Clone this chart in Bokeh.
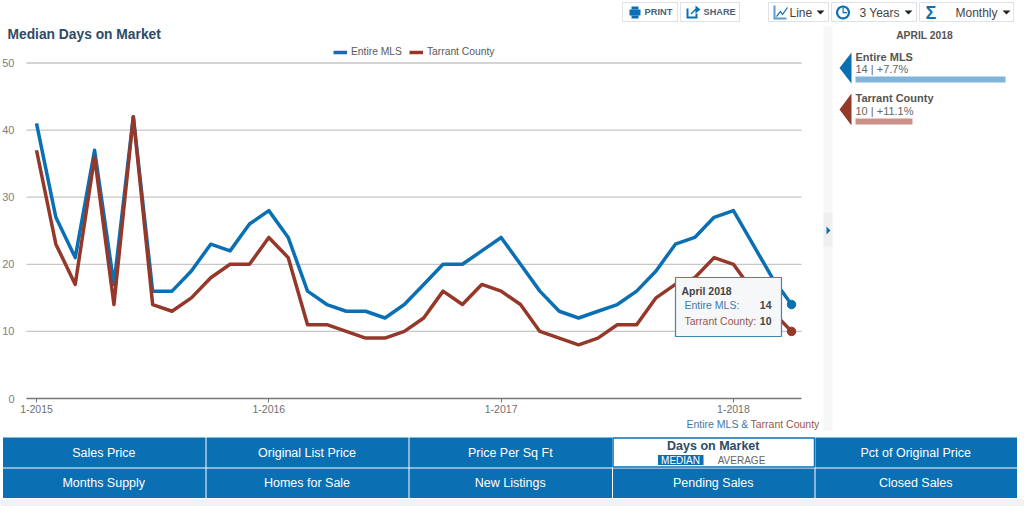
import math
from bokeh.plotting import figure
from bokeh.embed import file_html
from bokeh.resources import INLINE
from bokeh.models import (Label, BoxAnnotation, PolyAnnotation, FixedTicker, Legend, LegendItem, Range1d)

W, H = 1024, 506
entire_mls = [41,27,21,37,17,42,16,16,19,23,22,26,28,24,16,14,13,13,12,14,17,20,20,22,24,20,16,13,12,13,14,16,19,23,24,27,28,23,18,14]
tarrant = [37,23,17,36,14,42,14,13,15,18,20,20,24,21,11,11,10,9,9,10,12,16,14,17,16,14,10,9,8,9,11,11,15,17,18,21,20,16,13,10]
months = list(range(40))
x_ticks = [0,12,24,36]
x_tick_labels = ["1-2015","1-2016","1-2017","1-2018"]
y_ticks = [0,10,20,30,40,50]
buttons_row1 = ["Sales Price","Original List Price","Price Per Sq Ft","Days on Market","Pct of Original Price"]
buttons_row2 = ["Months Supply","Homes for Sale","New Listings","Pending Sales","Closed Sales"]

BLUE = "#0b6fb3"; RED = "#95382a"; FONT = "Liberation Sans"

# the frame fills the canvas; month 0 lies at 36px, with 19.36px per month; value 0 at 398px, 6.71px per unit
PX_X, X0 = 19.36, 36
PX_Y, Y0 = 6.71, 398
x_lo, x_hi = (26 - X0) / PX_X, (801 - X0) / PX_X

p = figure(width=W, height=H, output_backend="svg", toolbar_location=None,
           x_range=Range1d(-X0 / PX_X, (W - X0) / PX_X), y_range=Range1d(-(H - Y0) / PX_Y, Y0 / PX_Y),
           min_border=0, outline_line_color=None, background_fill_color="white", border_fill_color="white")

p.xaxis.fixed_location = 0
p.yaxis.fixed_location = x_lo
p.xaxis.bounds = (x_lo, x_hi)
p.xaxis.ticker = FixedTicker(ticks=x_ticks)
p.xaxis.major_label_overrides = dict(zip(x_ticks, x_tick_labels))
p.yaxis.ticker = FixedTicker(ticks=y_ticks)
p.grid.visible = False
p.segment([x_lo] * 5, y_ticks[1:], [x_hi] * 5, y_ticks[1:], line_color="#c6c6c6", line_width=1.3)
p.xaxis.axis_line_color = "#777777"; p.xaxis.axis_line_width = 1.5
p.xaxis.major_tick_line_color = "#777777"; p.xaxis.major_tick_in = 0; p.xaxis.major_tick_out = 4
p.xaxis.minor_tick_line_color = None
p.xaxis.major_label_text_font = FONT; p.xaxis.major_label_text_font_size = "10.5px"; p.xaxis.major_label_text_color = "#707070"
p.xaxis.major_label_standoff = 2
p.yaxis.axis_line_color = None; p.yaxis.major_tick_line_color = None; p.yaxis.minor_tick_line_color = None
p.yaxis.major_label_text_font = FONT; p.yaxis.major_label_text_font_size = "11px"; p.yaxis.major_label_text_color = "#808080"
p.yaxis.major_label_standoff = 6

r1 = p.line(months, entire_mls, line_color=BLUE, line_width=3.5, line_join="round")
r2 = p.line(months, tarrant, line_color=RED, line_width=3.5, line_join="round")
p.scatter(months[-1:], entire_mls[-1:], size=8.5, color=BLUE)
p.scatter(months[-1:], tarrant[-1:], size=8.5, color=RED)

legend = Legend(items=[LegendItem(label="Entire MLS", renderers=[r1]), LegendItem(label="Tarrant County", renderers=[r2])],
                orientation="horizontal", location=(333, 449), background_fill_alpha=0, border_line_color=None,
                label_text_font=FONT, label_text_font_size="10.3px", label_text_color="#5a5a5a",
                glyph_width=14, glyph_height=8, spacing=7, padding=2, margin=0, label_standoff=4)
p.add_layout(legend, "center")

LEVEL = "annotation"

def box(x0, y0, x1, y1, fill, line=None, lw=1, alpha=1.0, level=LEVEL):
    p.add_layout(BoxAnnotation(left=x0, right=x1, top=y0, bottom=y1,
                 left_units="canvas", right_units="canvas", top_units="canvas", bottom_units="canvas",
                 fill_color=fill, fill_alpha=alpha, line_color=line, line_alpha=1, line_width=lw, level=level, editable=False))

def text(x, y, s, size=11, color="#444444", style="normal", align="left"):
    p.add_layout(Label(x=x, y=y, x_units="canvas", y_units="canvas", text=s, text_font=FONT,
                       text_font_size=f"{size}px", text_color=color, text_font_style=style, text_align=align,
                       text_baseline="middle", level=LEVEL))

def poly(xs, ys, fill, line=None, lw=1):
    p.add_layout(PolyAnnotation(xs=xs, ys=ys, xs_units="canvas", ys_units="canvas",
                 fill_color=fill, fill_alpha=1, line_color=line, line_width=lw, level=LEVEL))

def disc(cx, cy, r, fill):
    a = [i * math.pi / 12 for i in range(24)]
    poly([cx + r * math.cos(t) for t in a], [cy + r * math.sin(t) for t in a], fill)

# title and source
text(7, 34, "Median Days on Market", 13.8, "#2f4a66", "bold")
text(686, 423, "Entire MLS &", 10.5, "#3d78a8")
text(750, 423, "Tarrant County", 10.5, "#96584d")

# tooltip
box(675, 277, 781, 336, "#f6f7f8", "#3f86b3", 1.2)
text(681, 290, "April 2018", 10.5, "#444444", "bold")
text(684, 304, "Entire MLS:", 10.5, "#3d78a8")
text(771, 304, "14", 10.5, "#444444", "bold", "right")
text(684, 320, "Tarrant County:", 10.5, "#96584d")
text(771, 320, "10", 10.5, "#444444", "bold", "right")

# side strip
box(823, 26, 832, 430, "#f7f7f7")
box(823, 212, 832, 246, "#efefef")
poly([826, 830, 826], [226, 230, 234], BLUE)

# side panel
text(924, 35, "APRIL 2018", 10.3, "#555555", "bold", "center")
poly([851, 851, 839], [52, 83, 67.5], BLUE)
text(855, 56, "Entire MLS", 11, "#555555", "bold")
text(855, 68.5, "14 | +7.7%", 11, "#666666")
box(855, 76, 1005, 82, "#80b4d9")
poly([851, 851, 839], [93, 125, 109], RED)
text(855, 97.5, "Tarrant County", 11, "#555555", "bold")
text(855, 110.5, "10 | +11.1%", 11, "#666666")
box(855, 118, 912, 124, "#cc9088")

# toolbar buttons
def btn(x0, x1):
    box(x0, 2, x1, 21, "#ffffff", "#dde2e6", 1)
btn(622, 677); btn(680, 739); btn(768, 828); btn(831, 916); btn(919, 1013)
box(629, 9, 640, 15, BLUE); box(631, 6, 638, 9, BLUE); box(631, 15, 638, 18, BLUE)
text(644, 11.5, "PRINT", 9.3, "#4a6278", "bold")
poly([686, 686, 697, 697, 695, 695, 688, 688], [8, 18, 18, 13, 13, 16, 16, 8], BLUE)
poly([690, 695, 695, 700, 695, 695, 691], [13, 8, 5, 9, 13, 10, 14], BLUE)
text(703, 11.5, "SHARE", 9.2, "#4a6278", "bold")
poly([773, 775, 775, 786, 786, 773], [5, 5, 17, 17, 19, 19], "#5d9ccb")
poly([776, 780, 782, 787, 787, 782, 780, 776], [15, 10, 13, 6, 8, 15, 12, 17], BLUE)
text(789, 12, "Line", 12, "#444444")
poly([816, 824, 820], [10, 10, 14], "#222222")
disc(842.5, 12, 7, BLUE)
disc(842.5, 12, 4.8, "#ffffff")
poly([842, 843.2, 843.2, 846.5, 846.5, 842], [7.5, 7.5, 11.5, 11.5, 12.8, 12.8], BLUE)
text(859, 12, "3 Years", 12, "#444444")
poly([904, 912, 908], [10, 10, 14], "#222222")
text(925, 12, "Σ", 18, BLUE, "bold")
text(955, 12, "Monthly", 12, "#444444")
poly([1002, 1010, 1006], [10, 10, 14], "#222222")

# bottom buttons
box(0, 498.5, 1024, 506, "#f2f2f2")
edges = [2, 205.5, 408.5, 612, 814.5, 1017]
for i in range(5):
    x0, x1 = edges[i], edges[i+1]
    mid = (x0 + x1) / 2 - 0.5
    if i == 3:
        box(x0 + 0.5, 437.5, x1 - 0.5, 466.5, "#ffffff", BLUE, 1.5)
        text(mid, 445.5, buttons_row1[i], 12.5, "#2f4a66", "bold", "center")
        box(657.5, 454.5, 703, 464.5, BLUE)
        text(680, 459.5, "MEDIAN", 10, "#ffffff", "normal", "center")
        text(741, 459.5, "AVERAGE", 10, "#666666", "normal", "center")
    else:
        box(x0 + 0.5, 437, x1 - 0.5, 467, BLUE)
        text(mid, 452, buttons_row1[i], 12.5, "#ffffff", "normal", "center")
    box(x0 + 0.5, 468, x1 - 0.5, 497.5, BLUE)
    text(mid, 482.5, buttons_row2[i], 12.5, "#ffffff", "normal", "center")

open("out.html", "w").write(file_html(p, INLINE))
